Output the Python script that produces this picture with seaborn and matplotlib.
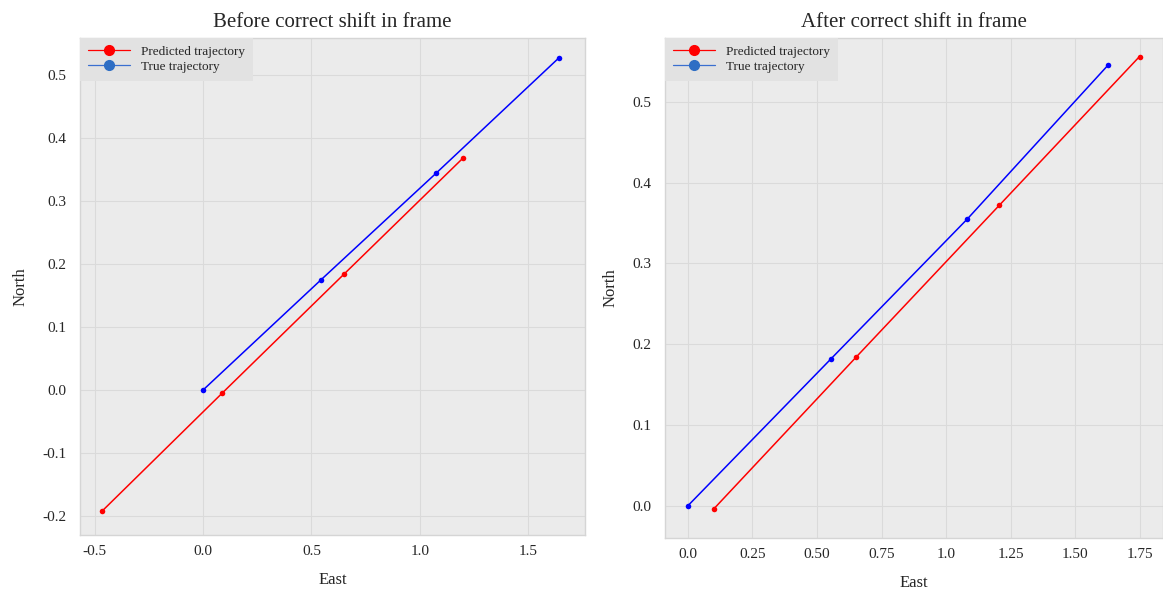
import numpy as np
import pandas as pd
import matplotlib
matplotlib.use("Agg")
import matplotlib.pyplot as plt
import seaborn as sns
from matplotlib.lines import Line2D

# Before correction
before_pred_east = [-0.465, 0.088, 0.650, 1.198]
before_pred_north = [-0.192, -0.005, 0.184, 0.368]
before_true_east = [0.0, 0.544, 1.074, 1.640]
before_true_north = [0.0, 0.175, 0.344, 0.527]

# After correction
after_pred_east = [0.100, 0.652, 1.207, 1.750]
after_pred_north = [-0.004, 0.184, 0.372, 0.556]
after_true_east = [0.0, 0.555, 1.083, 1.627]
after_true_north = [0.0, 0.182, 0.355, 0.545]

titles = ["Before correct shift in frame", "After correct shift in frame"]
right_xticks = [0.0, 0.25, 0.50, 0.75, 1.0, 1.25, 1.50, 1.75]
right_xticklabels = ["0.0", "0.25", "0.50", "0.75", "1.0", "1.25", "1.50", "1.75"]
left_xticks = [-0.5, 0.0, 0.5, 1.0, 1.5]
left_yticks = [-0.2, -0.1, 0.0, 0.1, 0.2, 0.3, 0.4, 0.5]
right_yticks = [0.0, 0.1, 0.2, 0.3, 0.4, 0.5]

sns.set_theme(style="whitegrid")
plt.rcParams['font.family'] = ['Liberation Serif', 'DejaVu Serif']
plt.rcParams['axes.unicode_minus'] = False

fig = plt.figure(figsize=(11.63, 5.89), dpi=100)
ax1 = fig.add_axes([0.0688, 0.0917, 0.434, 0.844])
ax2 = fig.add_axes([0.5718, 0.0866, 0.428, 0.849])

def draw(ax, pe, pn, te, tn, title):
    df = pd.DataFrame({
        "East": list(pe) + list(te),
        "North": list(pn) + list(tn),
        "series": ["Predicted trajectory"] * len(pe) + ["True trajectory"] * len(te),
    })
    sns.lineplot(data=df, x="East", y="North", hue="series", sort=False,
                 palette={"Predicted trajectory": "#FF0000", "True trajectory": "#0000FF"},
                 marker="o", markersize=4, markeredgewidth=0, linewidth=1.1,
                 ax=ax, legend=False, estimator=None)
    ax.set_facecolor("#EBEBEB")
    ax.grid(True, color="#DADADA", linewidth=0.8)
    for s in ax.spines.values():
        s.set_color("#D5D5D5")
        s.set_linewidth(1.0)
    ax.tick_params(axis="both", labelsize=11, length=2, color="#BBBBBB")
    ax.tick_params(axis="x", pad=5)
    ax.tick_params(axis="y", pad=8)
    ax.set_xlabel("East", fontsize=12, labelpad=10)
    ax.set_ylabel("North", fontsize=12, labelpad=10)
    ax.set_title(title, fontsize=15, pad=8)
    handles = [
        Line2D([0], [0], color="#FF0000", lw=0.9, marker="o", markersize=7),
        Line2D([0], [0], color="#3A6FD0", lw=0.9, marker="o", markersize=7,
               markerfacecolor="#2E6EC4", markeredgecolor="#2E6EC4"),
    ]
    leg = ax.legend(handles, ["Predicted trajectory", "True trajectory"],
                    loc="upper left", fontsize=9.5, frameon=True, fancybox=False,
                    borderaxespad=0.0, handlelength=3.2, labelspacing=0.2,
                    borderpad=0.6)
    leg.get_frame().set_facecolor("#E2E2E2")
    leg.get_frame().set_edgecolor("none")
    leg.get_frame().set_alpha(1.0)

draw(ax1, before_pred_east, before_pred_north, before_true_east, before_true_north, titles[0])
ax1.set_xlim(-0.567, 1.76)
ax1.set_ylim(-0.230, 0.559)
ax1.set_xticks(left_xticks)
ax1.set_xticklabels([f"{v:.1f}" for v in left_xticks])
ax1.set_yticks(left_yticks)
ax1.set_yticklabels([f"{v:.1f}" for v in left_yticks])

draw(ax2, after_pred_east, after_pred_north, after_true_east, after_true_north, titles[1])
ax2.set_xlim(-0.089, 1.84)
ax2.set_ylim(-0.040, 0.579)
ax2.set_xticks(right_xticks)
ax2.set_xticklabels(right_xticklabels)
ax2.set_yticks(right_yticks)
ax2.set_yticklabels([f"{v:.1f}" for v in right_yticks])

fig.savefig("out.png", dpi=100)
